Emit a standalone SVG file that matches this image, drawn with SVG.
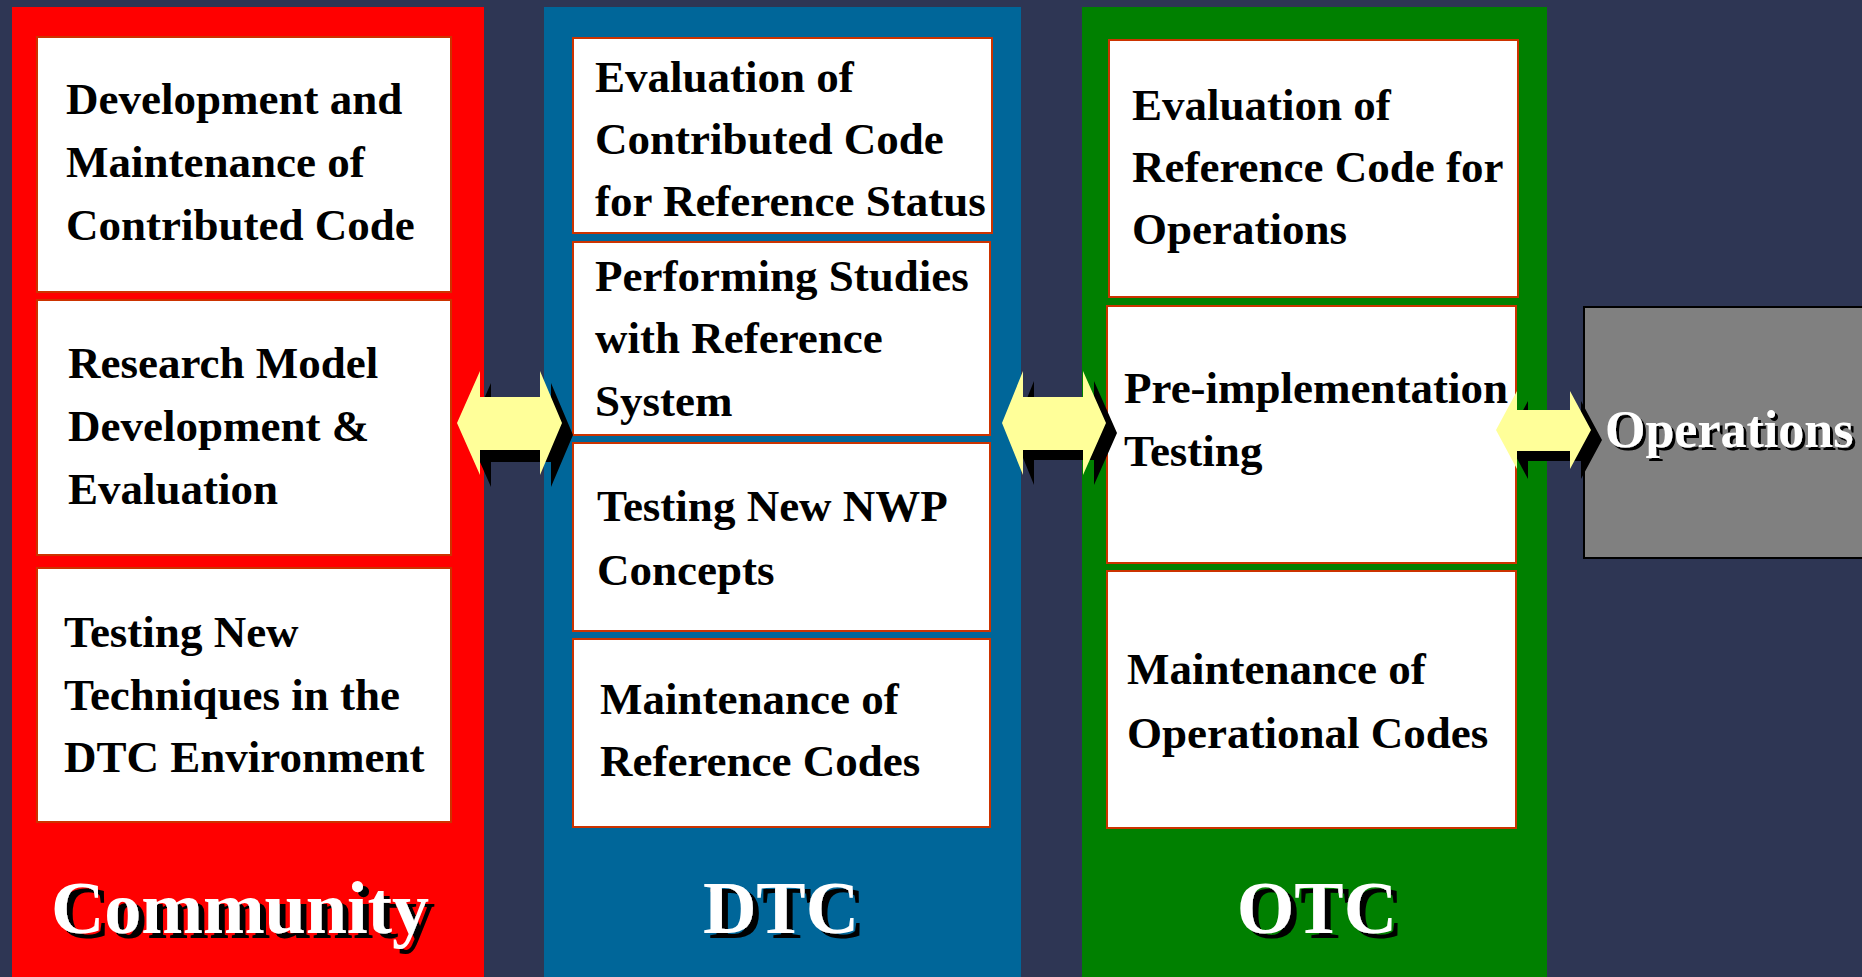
<svg xmlns="http://www.w3.org/2000/svg" width="1862" height="977" viewBox="0 0 1862 977">
<defs>
  <filter id="tshadow" x="-10%" y="-20%" width="130%" height="150%">
    <feOffset in="SourceAlpha" dx="6" dy="5" result="off"/>
    <feFlood flood-color="#000000"/>
    <feComposite in2="off" operator="in" result="sh"/>
    <feMerge><feMergeNode in="sh"/><feMergeNode in="SourceGraphic"/></feMerge>
  </filter>
  <filter id="oshadow" x="-10%" y="-20%" width="130%" height="150%">
    <feOffset in="SourceAlpha" dx="3" dy="3" result="off"/>
    <feFlood flood-color="#000000"/>
    <feComposite in2="off" operator="in" result="sh"/>
    <feMerge><feMergeNode in="sh"/><feMergeNode in="SourceGraphic"/></feMerge>
  </filter>
</defs>
<style>
.box{fill:#FFFFFF;stroke:#CC3300;stroke-width:2}
.t{font-family:"Liberation Serif","Times New Roman",serif;font-weight:bold;font-size:45px;fill:#000000}
.title{font-family:"Liberation Serif","Times New Roman",serif;font-weight:bold;font-size:74px;text-anchor:middle;fill:#FFFFFF;filter:url(#tshadow)}
.ops{font-family:"Liberation Serif","Times New Roman",serif;font-weight:bold;font-size:52px;fill:#FFFFFF;filter:url(#oshadow)}
.arrow{fill:#FFFF99}
.ashadow{fill:#000000}
</style>
<rect x="0" y="0" width="1862" height="977" fill="#2E3654"/>

<g id="community">
  <rect x="12" y="7" width="472" height="980" fill="#FF0000"/>
  <text class="title" x="240" y="933">Community</text>
</g>
<g id="dtc">
  <rect x="544" y="7" width="477" height="980" fill="#006699"/>
  <text class="title" x="781" y="933">DTC</text>
</g>
<g id="otc">
  <rect x="1082" y="7" width="465" height="980" fill="#008000"/>
  <text class="title" x="1317" y="933">OTC</text>
</g>

<g id="c1">
  <rect class="box" x="37" y="37" width="414" height="255"/>
  <text class="t" x="66" y="114">Development and</text>
  <text class="t" x="66" y="177">Maintenance of</text>
  <text class="t" x="66" y="240">Contributed Code</text>
</g>
<g id="c2">
  <rect class="box" x="37" y="300" width="414" height="255"/>
  <text class="t" x="68" y="378">Research Model</text>
  <text class="t" x="68" y="441">Development &amp;</text>
  <text class="t" x="68" y="504">Evaluation</text>
</g>
<g id="c3">
  <rect class="box" x="37" y="568" width="414" height="254"/>
  <text class="t" x="64" y="647">Testing New</text>
  <text class="t" x="64" y="710">Techniques in the</text>
  <text class="t" x="64" y="772">DTC Environment</text>
</g>

<g id="d1">
  <rect class="box" x="573" y="38" width="419" height="195"/>
  <text class="t" x="595" y="92">Evaluation of</text>
  <text class="t" x="595" y="154">Contributed Code</text>
  <text class="t" x="595" y="216">for Reference Status</text>
</g>
<g id="d2">
  <rect class="box" x="573" y="242" width="417" height="193"/>
  <text class="t" x="595" y="291">Performing Studies</text>
  <text class="t" x="595" y="353">with Reference</text>
  <text class="t" x="595" y="416">System</text>
</g>
<g id="d3">
  <rect class="box" x="573" y="443" width="417" height="188"/>
  <text class="t" x="597" y="521">Testing New NWP</text>
  <text class="t" x="597" y="585">Concepts</text>
</g>
<g id="d4">
  <rect class="box" x="573" y="639" width="417" height="188"/>
  <text class="t" x="600" y="714">Maintenance of</text>
  <text class="t" x="600" y="776">Reference Codes</text>
</g>

<g id="o1">
  <rect class="box" x="1109" y="40" width="409" height="257"/>
  <text class="t" x="1132" y="120">Evaluation of</text>
  <text class="t" x="1132" y="182">Reference Code for</text>
  <text class="t" x="1132" y="244">Operations</text>
</g>
<g id="o2">
  <rect class="box" x="1107" y="306" width="409" height="257"/>
  <text class="t" x="1124" y="403">Pre-implementation</text>
  <text class="t" x="1124" y="466">Testing</text>
</g>
<g id="o3">
  <rect class="box" x="1107" y="571" width="409" height="257"/>
  <text class="t" x="1127" y="684">Maintenance of</text>
  <text class="t" x="1127" y="748">Operational Codes</text>
</g>

<g id="operations">
  <rect x="1584" y="307" width="290" height="251" fill="#808080" stroke="#000000" stroke-width="2"/>
  <text class="ops" x="1605" y="447">Operations</text>
</g>

<g id="connectors">
  <g transform="translate(11,12)"><polygon class="ashadow" points="457,423 480,371 480,397 540,397 540,371 562,423 540,475 540,450 480,450 480,475"/></g>
  <polygon class="arrow" points="457,423 480,371 480,397 540,397 540,371 562,423 540,475 540,450 480,450 480,475"/>
  <g transform="translate(11,10)"><polygon class="ashadow" points="1002,423 1023,371 1023,397 1083,397 1083,371 1106,423 1083,475 1083,450 1023,450 1023,475"/></g>
  <polygon class="arrow" points="1002,423 1023,371 1023,397 1083,397 1083,371 1106,423 1083,475 1083,450 1023,450 1023,475"/>
  <g transform="translate(11,10)"><polygon class="ashadow" points="1496,430 1517,391 1517,410 1570,410 1570,391 1591,430 1570,469 1570,451 1517,451 1517,469"/></g>
  <polygon class="arrow" points="1496,430 1517,391 1517,410 1570,410 1570,391 1591,430 1570,469 1570,451 1517,451 1517,469"/>
</g>
</svg>
